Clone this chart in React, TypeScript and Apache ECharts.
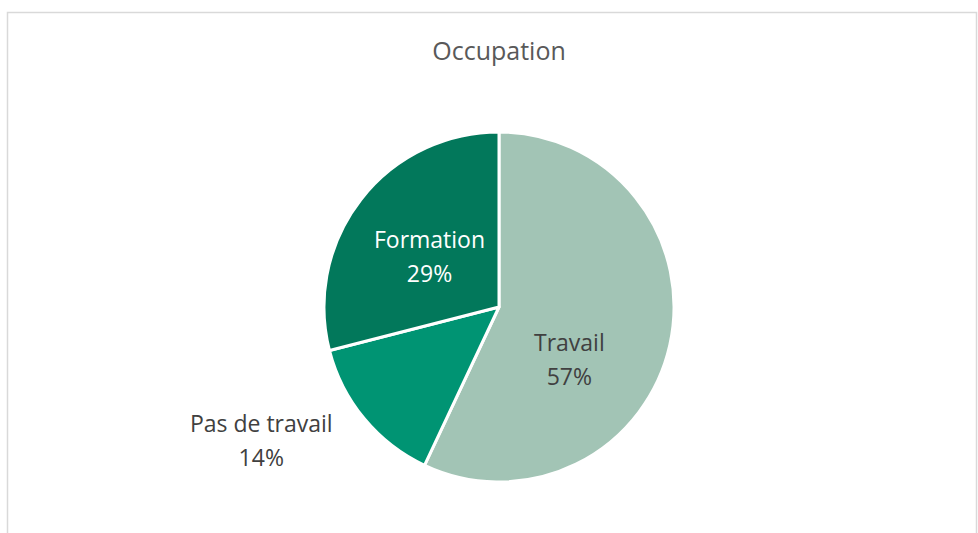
import React, { useEffect, useRef } from "react";
import * as echarts from "echarts";

const categories = ["Travail", "Pas de travail", "Formation"];
const values = [57, 14, 29];
const colors = ["#A2C4B5", "#009473", "#02785B"];
const labelColors = ["#404040", "#404040", "#FFFFFF"];
const labelShift = [
  [-18, 32],
  [-168, 75],
  [2, 4],
];

export default function App() {
  const ref = useRef<HTMLDivElement>(null);
  useEffect(() => {
    if (!ref.current) return;
    const chart = echarts.init(ref.current, null, { renderer: "svg" });
    const font = "'Open Sans', sans-serif";
    chart.setOption({
      animation: false,
      backgroundColor: "#ffffff",
      title: {
        text: "Occupation",
        left: 494,
        top: 32,
        textAlign: "center",
        textStyle: { fontFamily: font, fontSize: 25, fontWeight: "normal", color: "#595959" },
      },
      graphic: [
        {
          type: "rect",
          shape: { x: 7.5, y: 12.5, width: 969, height: 540 },
          style: { fill: "none", stroke: "#D9D9D9", lineWidth: 1.5 },
          silent: true,
        },
      ],
      series: [
        {
          type: "pie",
          center: [499, 307],
          radius: 175,
          startAngle: 90,
          clockwise: true,
          itemStyle: { borderColor: "#ffffff", borderWidth: 3 },
          label: {
            show: true,
            position: "inside",
            formatter: (p: any) => `${p.name}\n${Math.round(p.percent)}%`,
            fontFamily: font,
            fontSize: 23,
            lineHeight: 34,
          },
          labelLine: { show: false },
          labelLayout: (p: any) => ({
            dx: labelShift[p.dataIndex][0],
            dy: labelShift[p.dataIndex][1],
          }),
          emphasis: { disabled: true },
          data: categories.map((c, i) => ({
            name: c,
            value: values[i],
            itemStyle: { color: colors[i] },
            label: { color: labelColors[i] },
          })),
        },
      ],
    });
    return () => chart.dispose();
  }, []);
  return (
    <div
      ref={ref}
      style={{ position: "fixed", left: 0, top: 0, width: 978, height: 533 }}
    />
  );
}
